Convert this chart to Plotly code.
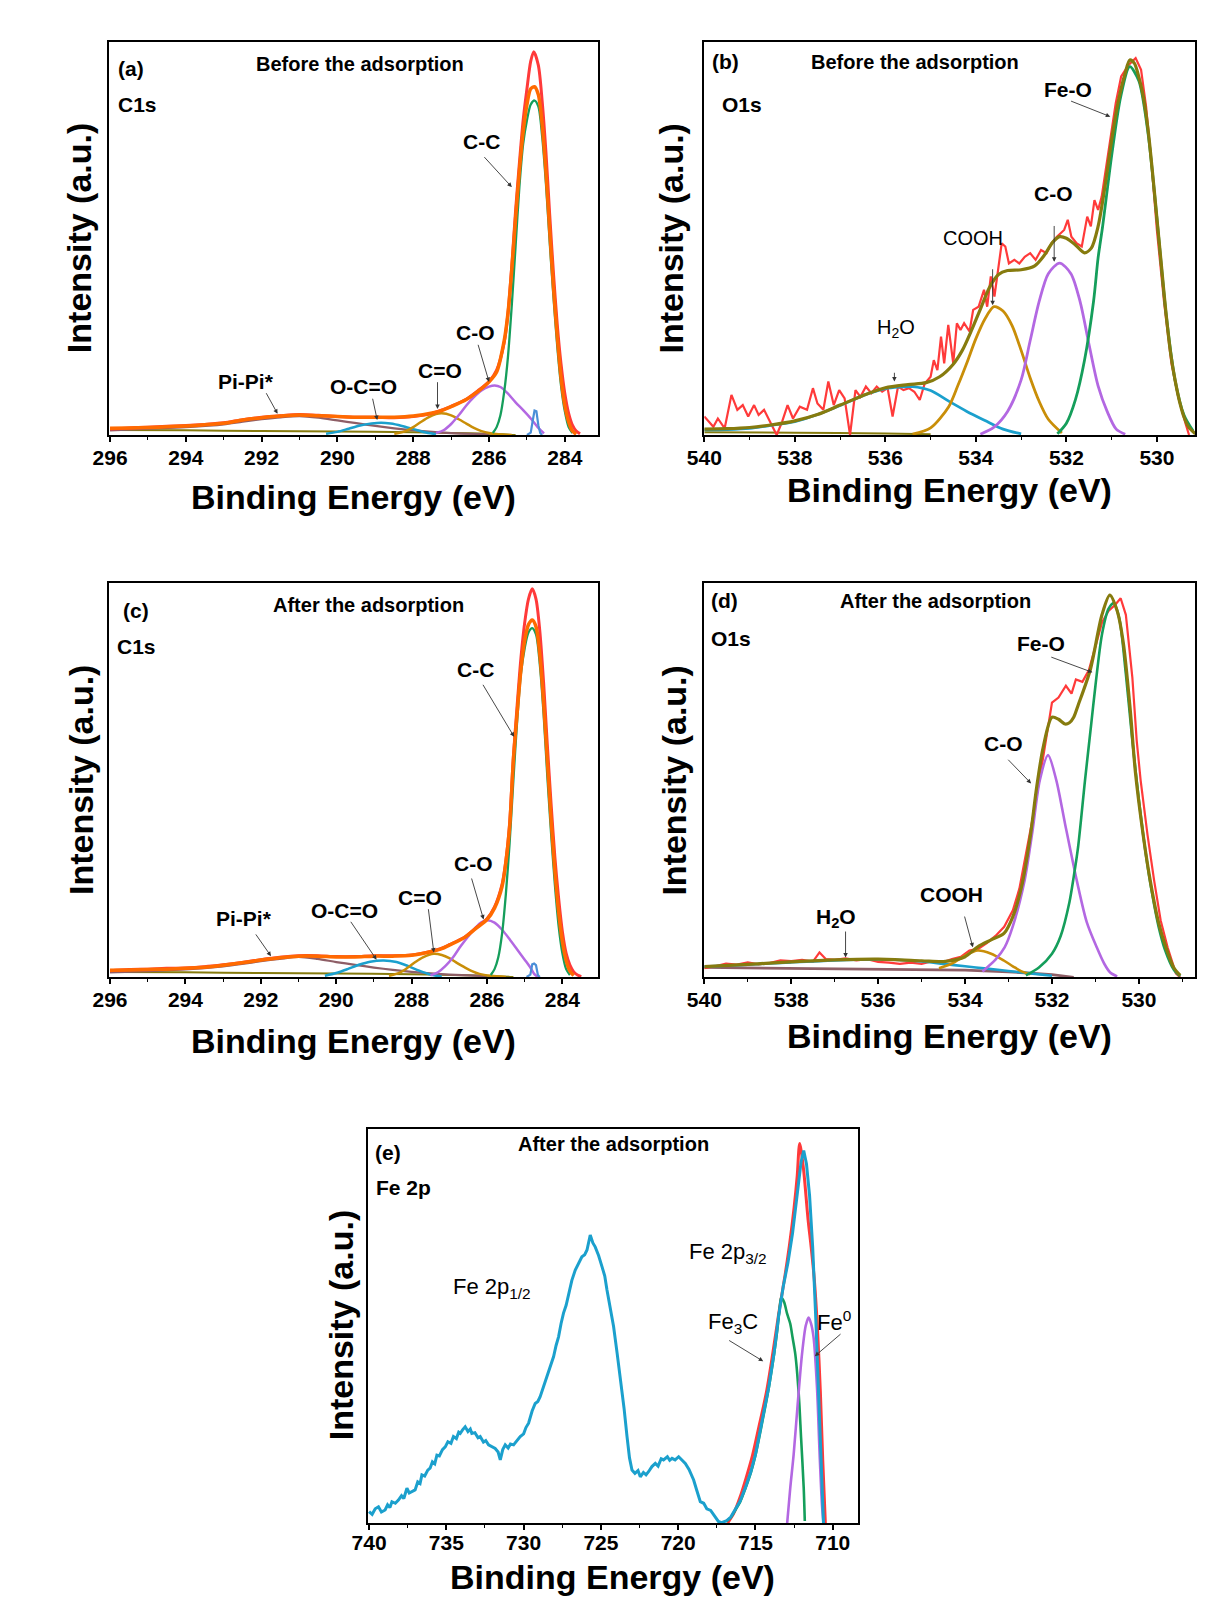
import plotly.graph_objects as go

W, H = 1205, 1624
FONT = "Arial, 'Liberation Sans', Helvetica, sans-serif"

# ---------------- colours ----------------
RED = "#FF3A3A"
ORANGE = "#FF6A00"
GREEN = "#159E5B"
PURPLE = "#B368E2"
GOLD = "#C98E08"
CYAN = "#1BA0CD"
OLIVE = "#867B0E"
BROWN = "#8E5E66"
BLUE = "#4A8FD8"

# ================= (a) C1s before adsorption =================
a_red = [(296,1.5),(295.5,1.8),(295,2.0),(294.5,2.2),(294,2.4),(293.5,2.7),(293,3.1),(292.5,3.9),(292,4.5),(291.5,4.9),(291,5.2),(290.5,5.0),(290,4.7),(289.5,4.5),(289,4.5),(288.5,4.4),(288,4.7),(287.5,5.5),(287.2,6.5),(287,7.3),(286.6,9.1),(286.3,11.2),(286,13.6),(285.8,16.5),(285.6,23.5),(285.5,31),(285.4,43),(285.3,57),(285.2,69),(285.1,80),(285,88),(284.9,95),(284.82,97.4),(284.7,94),(284.6,85),(284.5,72),(284.4,56),(284.3,41),(284.2,28),(284.1,18),(284,10.5),(283.9,5.5),(283.8,2.5),(283.7,1.0),(283.6,0.3)]
a_orange = [(296,1.7),(295.5,1.8),(295,1.9),(294.5,2.1),(294,2.3),(293.5,2.6),(293,3.0),(292.5,3.8),(292,4.4),(291.5,4.8),(291,5.1),(290.5,4.9),(290,4.7),(289.5,4.5),(289,4.5),(288.5,4.5),(288,4.8),(287.5,5.6),(287.2,6.4),(287,7.2),(286.6,9.0),(286.3,11.0),(286,13.5),(285.8,16),(285.6,24),(285.5,31),(285.4,42),(285.3,55),(285.2,67),(285.1,77),(285,84),(284.9,88),(284.8,88.5),(284.7,86.5),(284.6,79),(284.5,67),(284.4,52),(284.3,37.5),(284.2,25),(284.1,14.5),(284,7.5),(283.9,3.3),(283.8,1.0),(283.7,0.2)]
a_green = [(285.9,0.5),(285.8,2),(285.7,5),(285.6,11),(285.5,20),(285.4,33),(285.3,48),(285.2,63),(285.1,74),(285,80),(284.9,84),(284.8,85),(284.7,83.5),(284.6,76),(284.5,64),(284.4,49),(284.3,35),(284.2,22.5),(284.1,12.5),(284,6),(283.9,2),(283.8,0.5)]
a_purple = [(287.4,0.5),(287.2,1.2),(287,2.8),(286.8,5),(286.6,7.5),(286.4,9.6),(286.2,11.3),(286,12.3),(285.85,12.6),(285.7,12.2),(285.5,10.5),(285.3,8.3),(285.1,6.3),(284.9,4.2),(284.7,1.8),(284.55,0.4)]
a_gold = [(288.5,0.3),(288.2,1.0),(288,2.0),(287.8,3.3),(287.6,4.5),(287.4,5.3),(287.25,5.5),(287,5.0),(286.8,4.0),(286.6,2.9),(286.4,1.8),(286.2,1.0),(286,0.5),(285.7,0.15),(285.4,0)]
a_cyan = [(290.3,0.3),(290,0.8),(289.7,1.6),(289.4,2.4),(289.1,2.9),(288.85,3.1),(288.6,2.9),(288.3,2.3),(288,1.5),(287.7,0.7),(287.4,0.2)]
a_pipi = [(296,1.2),(295,1.6),(294,2.0),(293,2.7),(292.5,3.4),(292,4.0),(291.5,4.5),(291,4.8),(290.5,4.4),(290,3.7),(289.5,3.0),(289,2.3),(288.5,1.7),(288,1.2),(287.5,0.8),(287,0.5),(286,0.2)]
a_spike = [(285.0,0),(284.9,0.6),(284.85,3.5),(284.8,6.2),(284.75,6.0),(284.7,2.5),(284.65,0.5),(284.6,0)]
a_base = [(296,1.3),(294,1.2),(292,1.0),(290,0.9),(288,0.7),(287,0.5),(286,0.3),(285.3,0)]

# ================= (b) O1s before adsorption =================
b_red = [(540,4.7),(539.8,2.1),(539.7,4.2),(539.55,1.7),(539.4,10.2),(539.27,6.4),(539.15,7.6),(539.03,4.7),(538.9,7.6),(538.8,5.1),(538.68,6.4),(538.5,2.1),(538.4,0),(538.28,3.4),(538.16,7.6),(538.04,4.2),(537.89,7.2),(537.73,6.4),(537.6,11.9),(537.5,8),(537.37,6.4),(537.26,13.6),(537.14,7.6),(537.02,11.4),(536.9,9.3),(536.78,0),(536.66,11.4),(536.55,9.7),(536.43,12.3),(536.31,10.6),(536.19,12.3),(536.07,11),(535.95,11.9),(535.84,4.7),(535.72,12.3),(535.6,11.4),(535.48,11.9),(535.36,11),(535.24,8.9),(535.13,13.1),(535,14.8),(534.93,19),(534.85,16.5),(534.77,25),(534.7,18.2),(534.61,28),(534.5,18.2),(534.42,28.4),(534.34,26.7),(534.26,28.4),(534.14,26.3),(534.06,31.8),(533.94,32.6),(533.82,36.9),(533.75,32.6),(533.67,40.3),(533.59,35.2),(533.51,41.9),(533.43,48.7),(533.35,47.9),(533.27,43.6),(533.15,44.5),(533.04,43.6),(532.92,45.3),(532.8,46.2),(532.68,44.5),(532.56,47),(532.44,46.2),(532.33,48.7),(532.21,50.4),(532.05,52.1),(531.97,54.7),(531.89,50.4),(531.77,48.7),(531.66,47.9),(531.54,55.5),(531.46,53),(531.38,59.7),(531.3,57.2),(531.22,60.6),(531.14,66.5),(531.03,75),(530.91,84.3),(530.79,91.1),(530.63,94),(530.47,95.8),(530.35,92.8),(530.24,83.5),(530.12,69),(530,52),(529.84,33.5),(529.68,18.2),(529.53,9.7),(529.37,3),(529.29,0)]
b_olive = [(540,1.5),(539.5,1.6),(539,1.9),(538.5,2.6),(538,3.6),(537.5,5.2),(537,7.6),(536.5,10.0),(536,12.0),(535.5,12.8),(535.1,13.3),(534.8,14.8),(534.5,18.0),(534.3,21.5),(534.1,26.5),(533.9,32),(533.7,37.5),(533.5,40.8),(533.3,41.8),(533.0,42),(532.7,43),(532.5,45.5),(532.3,49),(532.15,50.4),(532.0,50),(531.8,48.3),(531.6,46.3),(531.45,47.5),(531.3,53),(531.15,63),(531.0,75),(530.85,85),(530.7,92),(530.6,95.3),(530.5,94.5),(530.4,91),(530.3,86),(530.2,78),(530.1,67),(530.0,55),(529.9,43),(529.8,31),(529.7,21),(529.6,14),(529.5,8.5),(529.4,4.5),(529.3,2),(529.15,0.3)]
b_green = [(532.2,0.3),(532,3),(531.8,9),(531.6,19),(531.4,34),(531.3,45),(531.2,53),(531,71),(530.8,86),(530.6,93.6),(530.4,90),(530.2,77),(530,55),(529.8,31),(529.6,14),(529.4,5),(529.2,1)]
b_purple = [(533.9,0.2),(533.6,2),(533.3,6),(533,14),(532.8,24),(532.6,34),(532.4,41),(532.15,43.7),(531.9,41),(531.7,34),(531.5,23),(531.3,12.5),(531.1,6),(530.9,1.5),(530.7,0.2)]
b_gold = [(535.4,0.2),(535,1.8),(534.6,7.2),(534.4,12.5),(534.2,18.3),(534,24.5),(533.8,29.5),(533.6,32.6),(533.4,31.5),(533.2,27.8),(533,21.5),(532.8,14.5),(532.6,8.5),(532.4,4),(532.1,0.5)]
b_cyan = [(540,1.3),(539.5,1.4),(539,1.7),(538.5,2.5),(538,3.4),(537.5,5.2),(537,7.5),(536.5,10),(536,11.8),(535.7,12.2),(535.4,12.3),(535,11.3),(534.6,8.6),(534.2,6.0),(533.8,3.7),(533.4,1.5),(533,0.3)]
b_base = [(540,0.7),(538,0.6),(536,0.4),(535,0.2)]

# ================= (c) C1s after adsorption =================
c_red = [(296,1.6),(295.5,1.9),(295,2.0),(294.5,2.2),(294,2.3),(293.5,2.6),(293,3.1),(292.5,3.7),(292,4.4),(291.5,5.0),(291,5.4),(290.5,5.4),(290,5.2),(289.5,5.2),(289,5.4),(288.5,5.4),(288,5.6),(287.5,6.5),(287.2,7.3),(287,8.2),(286.6,10.1),(286.3,12.4),(286,14.8),(285.8,17.8),(285.6,23.5),(285.5,29.5),(285.4,39),(285.3,56),(285.2,69),(285.1,81),(285,90),(284.9,96),(284.8,98.6),(284.7,96),(284.6,88),(284.5,75),(284.4,59),(284.3,44),(284.2,30.5),(284.1,20),(284,11.5),(283.9,6),(283.8,3),(283.7,1.3),(283.6,0.5),(283.5,0.1)]
c_orange = [(296,1.7),(295.5,1.8),(295,1.9),(294.5,2.0),(294,2.2),(293.5,2.5),(293,3.0),(292.5,3.6),(292,4.3),(291.5,4.9),(291,5.3),(290.5,5.3),(290,5.1),(289.5,5.1),(289,5.3),(288.5,5.3),(288,5.5),(287.5,6.4),(287.2,7.2),(287,8.1),(286.6,10.0),(286.3,12.3),(286,14.6),(285.8,17.5),(285.6,23),(285.5,29),(285.4,38),(285.3,55),(285.2,67),(285.1,78),(285,85.5),(284.9,89.5),(284.8,90.7),(284.7,89),(284.6,82),(284.5,70),(284.4,55),(284.3,40),(284.2,27),(284.1,16.5),(284,9),(283.9,4.2),(283.8,1.5),(283.7,0.4)]
c_green = [(285.9,0.5),(285.8,2),(285.7,5),(285.6,11),(285.5,21),(285.4,34),(285.3,50),(285.2,65),(285.1,77),(285,83.5),(284.9,87.5),(284.8,88.6),(284.7,87),(284.6,79.5),(284.5,67),(284.4,51),(284.3,36.5),(284.2,23.5),(284.1,13),(284,6),(283.9,2),(283.8,0.5)]
c_purple = [(287.5,0.4),(287.3,1.2),(287.1,2.8),(286.9,5.0),(286.7,7.8),(286.5,10.3),(286.3,12.6),(286.15,13.9),(285.99,14.4),(285.8,13.8),(285.6,12.0),(285.4,9.6),(285.2,7.0),(285.0,4.4),(284.85,2.4),(284.75,0.8),(284.65,0)]
c_gold = [(288.6,0.3),(288.3,1.2),(288.1,2.4),(287.9,3.8),(287.7,5.0),(287.41,5.9),(287.2,5.6),(287,4.8),(286.8,3.6),(286.6,2.5),(286.4,1.5),(286.2,0.8),(285.9,0.3),(285.5,0)]
c_cyan = [(290.3,0.3),(290,1.0),(289.7,2.0),(289.4,3.1),(289.1,3.9),(288.74,4.2),(288.4,3.8),(288.1,2.8),(287.8,1.6),(287.5,0.6),(287.2,0.1)]
c_pipi = [(296,1.2),(295,1.5),(294,1.9),(293,2.7),(292.5,3.3),(292,4.0),(291.5,4.6),(291,5.1),(290.5,4.6),(290,3.8),(289.5,3.1),(289,2.4),(288.5,1.8),(288,1.3),(287.5,0.9),(287,0.6),(286,0.2)]
c_spike = [(284.95,0),(284.85,0.6),(284.8,3.2),(284.75,3.4),(284.7,3.0),(284.65,0.5),(284.6,0)]
c_base = [(296,1.3),(294,1.2),(292,1.0),(290,0.9),(288,0.7),(287,0.5),(286,0.3),(285.3,0)]

# ================= (d) O1s after adsorption =================
d_red = [(540,2.3),(539.75,2.8),(539.5,3.5),(539.25,3.2),(539,3.8),(538.75,3.3),(538.5,3.6),(538.25,4.3),(538,4.1),(537.75,4.4),(537.5,4.0),(537.35,6.3),(537.2,4.6),(537,4.4),(536.75,4.8),(536.5,4.3),(536.25,4.6),(536,3.9),(535.75,3.7),(535.5,3.4),(535.25,3.7),(535,3.4),(534.75,4.1),(534.5,3.9),(534.3,4.6),(534.1,5.2),(533.9,6.8),(533.7,7.2),(533.5,8.7),(533.3,10.5),(533.1,12.8),(532.9,17),(532.75,22.5),(532.6,31),(532.4,43),(532.2,56),(532,69.7),(531.85,71),(531.68,74),(531.55,72),(531.45,75.6),(531.3,75),(531.15,78),(531,84),(530.85,90),(530.7,93),(530.55,94.5),(530.42,96.2),(530.3,92),(530.15,76),(530.05,60),(529.96,50),(529.8,36),(529.65,24.6),(529.5,14.5),(529.34,7.6),(529.15,1),(529.05,0)]
d_olive = [(540,2.7),(539,3.3),(538.5,3.6),(538,3.9),(537,4.4),(536,4.6),(535,4.2),(534.5,4.0),(534.2,4.5),(534,5.2),(533.7,7.8),(533.4,9.5),(533.1,11.2),(532.9,15.4),(532.7,23),(532.5,35.7),(532.35,48.4),(532.2,58.5),(532.0,66),(531.85,65.5),(531.7,64.3),(531.6,64.6),(531.5,66),(531.4,69),(531.12,78),(530.85,92),(530.67,97),(530.5,93),(530.36,85),(530.2,68),(530.08,52),(529.9,36),(529.74,24.6),(529.55,14),(529.38,7.6),(529.2,2.5),(529.05,0.5)]
d_green = [(532.6,0.5),(532.3,2.5),(532,6),(531.8,10.5),(531.6,19),(531.5,25.5),(531.4,33),(531.24,50),(531.1,64),(531,74),(530.85,87),(530.7,93.5),(530.58,95),(530.45,91),(530.3,77),(530.15,60),(530,45),(529.85,32),(529.7,21.5),(529.55,13),(529.4,7),(529.2,2),(529.05,0.3)]
d_purple = [(533.6,1.5),(533.3,4.5),(533.09,7.6),(532.9,13),(532.63,24.6),(532.45,37),(532.28,50),(532.09,56.4),(531.9,50),(531.7,39),(531.43,24.6),(531.2,14),(530.97,7.6),(530.8,3.5),(530.66,1.2),(530.5,0.2)]
d_gold = [(534.6,2.3),(534.3,3.5),(534,5.5),(533.71,6.8),(533.4,6),(533.1,4.2),(532.9,2.8),(532.7,1.5),(532.5,0.8)]
d_cyan = [(540,2.7),(539,3.2),(538,3.8),(537,4.3),(536,4.5),(535.5,4.4),(535,4.0),(534.5,3.4),(534,2.8),(533.5,2.2),(533,1.6),(532.5,1.0),(532,0.4)]
d_brown = [(540,2.5),(538,2.3),(536,2.1),(534,1.8),(533,1.4),(532,0.7),(531.5,0)]

# ================= (e) Fe 2p after adsorption =================
e_cyan = [(740,2.9),(739.8,2.2),(739.6,3.6),(739.39,4.1),(739.2,2.8),(738.96,3.3),(738.8,4.6),(738.65,3.9),(738.52,5.4),(738.3,5.0),(738.1,5.8),(737.9,6.9),(737.75,6.2),(737.55,8.8),(737.4,7.6),(737.2,8.0),(737.02,8.4),(736.85,10.4),(736.7,10.0),(736.58,12.2),(736.4,11.9),(736.2,13.4),(736.05,13.9),(735.9,15.5),(735.75,15.0),(735.61,17.2),(735.45,17.0),(735.25,18.6),(735.07,19.3),(734.9,20.6),(734.7,20.2),(734.54,21.9),(734.35,21.4),(734.2,23.0),(734.1,22.7),(733.95,23.6),(733.78,24.4),(733.6,23.2),(733.45,23.8),(733.35,22.7),(733.15,22.9),(732.95,21.6),(732.81,21.9),(732.6,20.5),(732.45,20.9),(732.27,19.8),(732.05,19.4),(731.84,18.9),(731.65,18.0),(731.51,16.0),(731.35,18.6),(731.19,19.8),(731.0,19.0),(730.85,20.0),(730.65,19.8),(730.45,20.8),(730.22,21.9),(730.0,22.6),(729.85,24.2),(729.68,25.3),(729.45,28.4),(729.25,30.3),(729.08,30.8),(728.93,32.0),(728.7,34.6),(728.49,37.1),(728.28,39.6),(728.06,42.2),(727.9,45.0),(727.74,47.2),(727.58,50.5),(727.42,53.2),(727.25,55.2),(727.09,58.2),(726.88,61.5),(726.66,64.1),(726.45,65.9),(726.23,67.5),(726.05,68.0),(725.9,69.2),(725.69,73.0),(725.52,71.0),(725.37,70.0),(725.15,67.8),(724.93,65.0),(724.75,62.6),(724.61,59.1),(724.4,55.0),(724.18,49.8),(723.95,43.0),(723.75,37.1),(723.5,29.0),(723.31,21.9),(723.15,16.5),(722.99,13.4),(722.8,12.6),(722.6,13.3),(722.45,11.7),(722.25,12.8),(722.08,12.2),(721.92,13.0),(721.7,14.3),(721.48,15.1),(721.3,14.4),(721.1,16.3),(720.95,16.0),(720.7,16.8),(720.55,15.9),(720.4,16.4),(720.2,16.0),(719.97,16.8),(719.75,15.8),(719.54,15.1),(719.3,13.6),(719.0,10.9),(718.8,8.3),(718.57,5.4),(718.35,5.0),(718.15,3.6),(717.9,3.2),(717.63,1.8),(717.4,0.4),(717.2,0.1),(716.9,0.5),(716.6,1.5),(716.3,3.5),(716,5.5),(715.66,8.9),(715.3,13),(715,17.4),(714.6,25),(714.15,34.3),(713.8,43),(713.5,52.5),(713.2,60),(712.9,66),(712.6,73.5),(712.3,84),(712.05,91.5),(711.88,94.4),(711.7,91),(711.5,83),(711.3,70),(711.1,52),(710.95,35),(710.8,18),(710.68,5),(710.6,0)]
e_red = [(716.8,0),(716.4,2.5),(716,6.5),(715.6,11.5),(715.2,17),(714.8,24),(714.3,33),(713.9,42.5),(713.5,53),(713.1,62.5),(712.8,70.5),(712.5,80),(712.3,88),(712.14,96.2),(711.9,90),(711.6,77),(711.4,70),(711.2,62),(711,50),(710.8,33),(710.65,16),(710.48,0)]
e_green = [(716.9,0.4),(716.6,1.4),(716.3,3.3),(716,5.3),(715.66,8.7),(715.3,12.8),(715,17.2),(714.6,24.8),(714.15,34),(713.8,42.7),(713.6,48.5),(713.45,54),(713.33,57.2),(713.15,56),(712.95,53),(712.75,50.5),(712.6,47),(712.42,42.7),(712.2,32.6),(712.05,21.6),(711.88,8.9),(711.81,0.5)]
e_purple = [(712.95,0),(712.75,8.9),(712.53,17.4),(712.27,30.1),(711.99,42.8),(711.75,50),(711.56,52.1),(711.4,50.5),(711.24,47),(711.02,34.3),(710.85,17.4),(710.7,4.7),(710.6,0)]

# ---------------- layout geometry (pixels) ----------------
panels = {
    "a": dict(n="", xpx=(108.9, 598.2), ypx=(41.5, 435.0), xr=[296.03, 283.12], dtick=2, minor=1, xt=62, yt=30, lo=-2),
    "b": dict(n="2", xpx=(704.3, 1195.4), ypx=(41.5, 435.0), xr=[540.0, 529.15], dtick=2, minor=1, xt=55, yt=33, lo=-2),
    "c": dict(n="3", xpx=(108.9, 598.2), ypx=(583.3, 977.0), xr=[296.03, 283.05], dtick=2, minor=1, xt=64, yt=28, lo=-2),
    "d": dict(n="4", xpx=(704.3, 1195.4), ypx=(583.3, 977.3), xr=[540.0, 528.7], dtick=2, minor=1, xt=59, yt=30, lo=-2),
    "e": dict(n="5", xpx=(367.5, 857.5), ypx=(1128.5, 1523.0), xr=[740.1, 708.4], dtick=5, minor=2.5, xt=54, yt=27, lo=-5),
}

fig = go.Figure()


def add(panel, pts, color, width, shape="spline"):
    p = panels[panel]
    xs = [q[0] for q in pts]
    ys = [q[1] for q in pts]
    line = dict(color=color, width=width, shape=shape)
    if shape == "spline":
        line["smoothing"] = 0.8
    fig.add_trace(go.Scatter(
        x=xs, y=ys, mode="lines", line=line,
        xaxis="x" + p["n"], yaxis="y" + p["n"], showlegend=False, hoverinfo="skip"))


# (a)
add("a", a_base, OLIVE, 2)
add("a", a_pipi, BROWN, 2.2)
add("a", a_cyan, CYAN, 2.5)
add("a", a_gold, GOLD, 2.5)
add("a", a_purple, PURPLE, 2.5)
add("a", a_spike, BLUE, 2.2, "linear")
add("a", a_green, GREEN, 2.3)
add("a", a_red, RED, 3)
add("a", a_orange, ORANGE, 3.5)
# (b)
add("b", b_base, OLIVE, 2)
add("b", b_red, RED, 2.2, "linear")
add("b", b_cyan, CYAN, 2.8)
add("b", b_gold, GOLD, 2.8)
add("b", b_purple, PURPLE, 2.8)
add("b", b_green, GREEN, 2.8)
add("b", b_olive, OLIVE, 3.2)
# (c)
add("c", c_base, OLIVE, 2)
add("c", c_pipi, BROWN, 2.2)
add("c", c_cyan, CYAN, 2.5)
add("c", c_gold, GOLD, 2.5)
add("c", c_purple, PURPLE, 2.5)
add("c", c_spike, BLUE, 2.2, "linear")
add("c", c_green, GREEN, 2.3)
add("c", c_red, RED, 3)
add("c", c_orange, ORANGE, 3.5)
# (d)
add("d", d_brown, BROWN, 2.8, "linear")
add("d", d_red, RED, 2.2, "linear")
add("d", d_cyan, CYAN, 2.6)
add("d", d_gold, GOLD, 2.6)
add("d", d_purple, PURPLE, 2.6)
add("d", d_green, GREEN, 2.6)
add("d", d_olive, OLIVE, 3.2)
# (e)
add("e", e_red, RED, 3)
add("e", e_green, GREEN, 2.6)
add("e", e_purple, PURPLE, 2.6)
add("e", e_cyan, CYAN, 3, "linear")

annotations = []
layout = dict(
    width=W, height=H, margin=dict(l=0, r=0, t=0, b=0, autoexpand=False),
    paper_bgcolor="white", plot_bgcolor="white", showlegend=False,
    font=dict(family=FONT, color="black"),
)

for key, p in panels.items():
    x0, x1 = p["xpx"]
    y0, y1 = p["ypx"]
    xa = "xaxis" + p["n"]
    ya = "yaxis" + p["n"]
    layout[xa] = dict(
        domain=[x0 / W, x1 / W], range=p["xr"], anchor="y" + p["n"], automargin=False,
        dtick=p["dtick"], tick0=0, ticks="outside", ticklen=5, tickwidth=1.5, tickcolor="black",
        minor=dict(dtick=p["minor"], tick0=0, ticks="outside", ticklen=3, tickwidth=1.2, tickcolor="black"),
        showline=True, mirror=True, linecolor="black", linewidth=1.6,
        showgrid=False, zeroline=False,
        tickfont=dict(family=FONT, size=21, color="black", weight="bold"),
        ticklabelstandoff=p["lo"],
    )
    layout[ya] = dict(
        domain=[1 - y1 / H, 1 - y0 / H], range=[0, 100], anchor="x" + p["n"], automargin=False,
        showticklabels=False, ticks="", showline=True, mirror=True,
        linecolor="black", linewidth=1.6, showgrid=False, zeroline=False,
    )
    # axis titles
    annotations.append(dict(
        text="<b>Binding Energy (eV)</b>", xref="paper", yref="paper",
        x=(x0 + x1) / 2 / W, y=1 - (y1 + p["xt"]) / H, xanchor="center", yanchor="middle",
        showarrow=False, font=dict(family=FONT, size=34, color="black")))
    annotations.append(dict(
        text="<b>Intensity (a.u.)</b>", xref="paper", yref="paper",
        x=(x0 - p["yt"]) / W, y=1 - (y0 + y1) / 2 / H, xanchor="center", yanchor="middle",
        textangle=-90, showarrow=False, font=dict(family=FONT, size=34, color="black")))


def label(panel, text, x, y, size=21, anchor="center", bold=True):
    n = panels[panel]["n"]
    annotations.append(dict(
        text=("<b>%s</b>" % text) if bold else text, x=x, y=y, xref="x" + n, yref="y" + n,
        xanchor=anchor, yanchor="middle", showarrow=False,
        font=dict(family=FONT, size=size, color="black")))


def arrow(panel, tx, ty, hx, hy):
    n = panels[panel]["n"]
    annotations.append(dict(
        text="", x=hx, y=hy, ax=tx, ay=ty, xref="x" + n, yref="y" + n,
        axref="x" + n, ayref="y" + n, showarrow=True, arrowhead=2, arrowsize=1,
        arrowwidth=0.9, arrowcolor="#333333"))


# (a) labels
label("a", "(a)", 295.85, 93.2, 21, "left")
label("a", "Before the adsorption", 289.4, 94.2, 20)
label("a", "C1s", 295.85, 84.0, 21, "left")
label("a", "C-C", 286.2, 74.5)
arrow("a", 286.16, 71.0, 285.4, 63.0)
label("a", "C-O", 286.35, 26.0)
arrow("a", 286.3, 23.3, 286.0, 13.5)
label("a", "C=O", 287.3, 16.5)
arrow("a", 287.36, 13.8, 287.36, 6.6)
label("a", "O-C=O", 289.3, 12.3)
arrow("a", 289.08, 9.6, 288.95, 3.8)
label("a", "Pi-Pi*", 292.4, 13.6)
arrow("a", 291.9, 11.0, 291.58, 5.4)

# (b) labels
label("b", "(b)", 539.88, 94.9, 21, "left")
label("b", "Before the adsorption", 535.35, 94.9, 20)
label("b", "O1s", 539.66, 83.9, 21, "left")
label("b", "Fe-O", 531.97, 87.7)
arrow("b", 531.93, 85.0, 531.03, 80.9)
label("b", "C-O", 532.29, 61.4)
arrow("b", 532.27, 53.5, 532.27, 44.0)
label("b", "COOH", 534.06, 50.0, 20, bold=False)
arrow("b", 533.63, 42.5, 533.63, 33.0)
label("b", "H<sub>2</sub>O", 535.76, 27.1, 20, bold=False)
arrow("b", 535.8, 16.2, 535.8, 13.6)

# (c) labels
label("c", "(c)", 295.72, 93.2, 21, "left")
label("c", "After the adsorption", 289.15, 94.5, 20)
label("c", "C1s", 295.86, 83.9, 21, "left")
label("c", "C-C", 286.3, 78.0)
arrow("c", 286.13, 74.6, 285.28, 61.0)
label("c", "C-O", 286.37, 28.8)
arrow("c", 286.42, 25.4, 286.09, 14.6)
label("c", "C=O", 287.79, 20.3)
arrow("c", 287.56, 17.6, 287.41, 6.2)
label("c", "O-C=O", 289.79, 16.9)
arrow("c", 289.64, 14.4, 288.93, 4.4)
label("c", "Pi-Pi*", 292.44, 14.8)
arrow("c", 292.16, 11.2, 291.73, 5.3)

# (d) labels
label("d", "(d)", 539.89, 95.6, 21, "left")
label("d", "After the adsorption", 534.68, 95.6, 20)
label("d", "O1s", 539.89, 86.0, 21, "left")
label("d", "Fe-O", 532.26, 84.8)
arrow("d", 532.05, 81.4, 531.07, 77.4)
label("d", "C-O", 533.12, 59.4)
arrow("d", 533.04, 55.6, 532.48, 49.2)
label("d", "COOH", 534.31, 20.9)
arrow("d", 534.02, 15.8, 533.82, 7.6)
label("d", "H<sub>2</sub>O", 536.98, 15.0)
arrow("d", 536.75, 12.0, 536.75, 5.0)

# (e) labels
label("e", "(e)", 739.75, 93.9, 21, "left")
label("e", "After the adsorption", 724.2, 96.0, 20)
label("e", "Fe 2p", 739.7, 85.0, 21, "left")
label("e", "Fe 2p<sub>1/2</sub>", 732.07, 59.6, 22, bold=False)
label("e", "Fe 2p<sub>3/2</sub>", 716.8, 68.5, 22, bold=False)
label("e", "Fe<sub>3</sub>C", 716.47, 50.8, 22, bold=False)
arrow("e", 716.8, 46.5, 714.5, 41.0)
label("e", "Fe<sup>0</sup>", 709.9, 51.2, 22, bold=False)
arrow("e", 709.4, 48.2, 711.16, 42.3)

layout["annotations"] = annotations
fig.update_layout(**layout)
fig.write_html("out.html")
